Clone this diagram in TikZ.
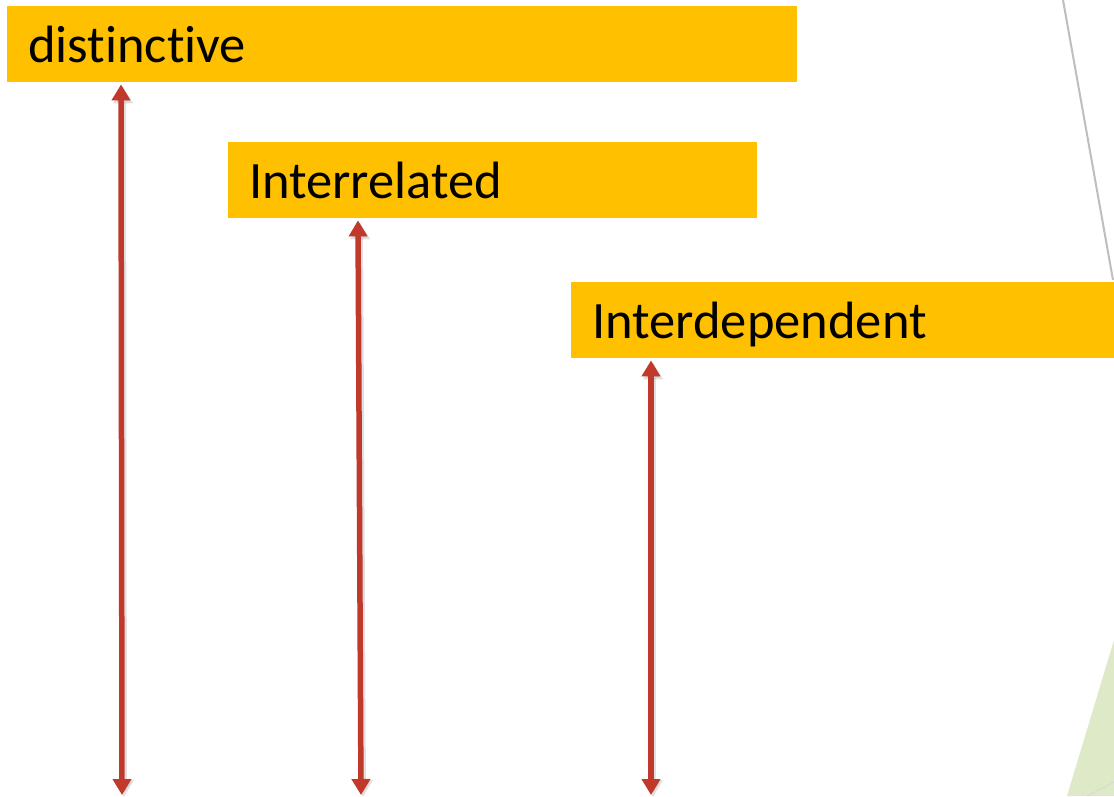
\documentclass[tikz,border=0pt]{standalone}
\usepackage{fontspec}
\setmainfont[Ligatures=NoCommon]{Carlito}
\usetikzlibrary{arrows.meta,calc}
\definecolor{boxorange}{HTML}{FFC000}
\definecolor{arrred}{HTML}{C0392B}
\definecolor{paleleaf}{HTML}{DDE9C7}
\definecolor{edgegray}{HTML}{BEBEBE}
\tikzset{
  label box/.style={anchor=north west, fill=boxorange, inner xsep=21pt, inner ysep=0pt,
    text height=56pt, text depth=20pt,
    align=left, font=\fontsize{52.5}{60}\selectfont, text=black},
  double arrow/.style={draw=arrred, line width=5.5pt,
    {Triangle[width=18pt,length=16pt]}-{Triangle[width=18pt,length=16pt]}},
  arrow shadow/.style={draw=black, opacity=0.12, line width=6pt,
    {Triangle[width=19pt,length=17pt]}-{Triangle[width=19pt,length=17pt]}},
}
\begin{document}
\begin{tikzpicture}[x=1pt,y=-1pt]
\useasboundingbox (0,0) rectangle (1114,796);
\clip (0,0) rectangle (1114,796);
\fill[white] (0,0) rectangle (1114,796);
% decorative background shapes
\fill[paleleaf] (1114,640) -- (1067,796) -- (1114,796) -- cycle;
\draw[edgegray!60, line width=0.8pt] (1087,796) -- (1114,782);
\draw[edgegray, line width=2pt] (1063,0) -- (1113,280);
% boxes
\node[label box, text width=748pt] (d) at (7,6) {distinctive};
\node[label box, text width=487pt] (i) at (228,142) {Interrelated};
\node[label box, text width=520pt] (p) at (571,282) {Interdependent};
% arrow ends
\coordinate (t1) at (121,0);
\coordinate (b1) at (122,795);
\coordinate (t2) at (358,0);
\coordinate (b2) at (361,795);
\coordinate (t3) at (651,0);
\coordinate (b3) at (651,795);
\foreach \t/\b/\n in {t1/b1/d, t2/b2/i, t3/b3/p}{
  \draw[arrow shadow] ($(\t |- \n.south)+(2,4)$) -- ($(\b)+(2,2)$);
  \draw[double arrow] ($(\t |- \n.south)+(0,2)$) -- (\b);
}
\end{tikzpicture}
\end{document}
